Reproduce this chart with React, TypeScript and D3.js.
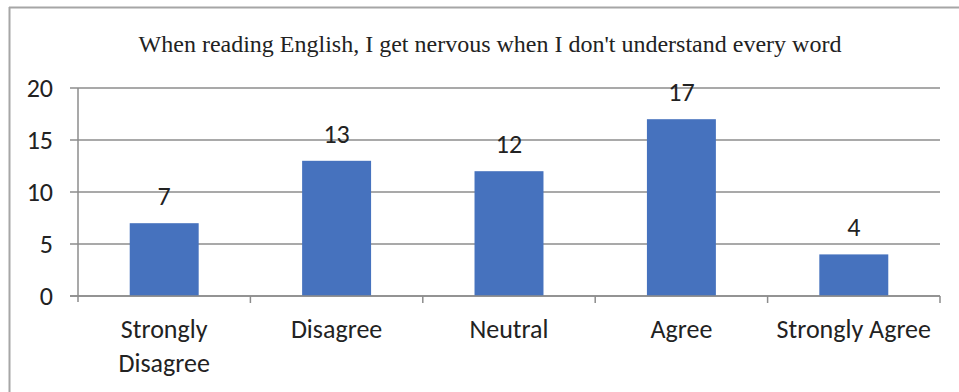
import React from "react";
import * as d3 from "d3";

const title = "When reading English, I get nervous when I don't understand every word";
const categories = ["Strongly Disagree", "Disagree", "Neutral", "Agree", "Strongly Agree"];
const categoryLines = [["Strongly", "Disagree"], ["Disagree"], ["Neutral"], ["Agree"], ["Strongly Agree"]];
const values = [7, 13, 12, 17, 4];
const yTicks = [0, 5, 10, 15, 20];

const W = 959;
const H = 392;
const plot = { left: 78, right: 940, top: 88, bottom: 296 };
const labelFont = "Carlito, Lato, 'Open Sans', sans-serif";
const labelSize = 26;

export default function App() {
  const x = d3.scaleBand<string>().domain(categories).range([plot.left, plot.right]).padding(0);
  const y = d3.scaleLinear().domain([0, 20]).range([plot.bottom, plot.top]);
  const barW = x.bandwidth() * 0.4;
  const grid = "#8c8c8c";

  return (
    <svg width={W} height={H} style={{ position: "absolute", left: 0, top: 0, background: "#fff" }}>
      {/* frame: top and left edges */}
      <line x1={9} x2={W} y1={7.5} y2={7.5} stroke="#a6a6a6" strokeWidth={2} />
      <line x1={9.5} x2={9.5} y1={7} y2={H} stroke="#a6a6a6" strokeWidth={2} />

      <text x={490} y={52} textAnchor="middle" fontFamily="'Liberation Serif', 'Times New Roman', serif" fontSize={24} fill="#222">
        {title}
      </text>

      {yTicks.map((t) => (
        <g key={t}>
          <line x1={70} x2={plot.right} y1={y(t)} y2={y(t)} stroke={grid} strokeWidth={1.3} />
          <text x={53} y={y(t)} dy="0.36em" textAnchor="end" fontFamily={labelFont} fontSize={labelSize} fill="#222">
            {t}
          </text>
        </g>
      ))}

      <line x1={plot.left} x2={plot.left} y1={plot.top} y2={plot.bottom + 6} stroke={grid} strokeWidth={1.5} />
      {categories.map((c) => (
        <line key={c} x1={(x(c) as number) + x.bandwidth()} x2={(x(c) as number) + x.bandwidth()} y1={plot.bottom} y2={plot.bottom + 7} stroke={grid} strokeWidth={1.5} />
      ))}

      {categories.map((c, i) => {
        const cx = (x(c) as number) + x.bandwidth() / 2;
        return (
          <g key={c}>
            <rect x={cx - barW / 2} y={y(values[i])} width={barW} height={plot.bottom - y(values[i])} fill="#4672BE" />
            <text x={cx} y={y(values[i]) - 18} textAnchor="middle" fontFamily={labelFont} fontSize={labelSize} fill="#222">
              {values[i]}
            </text>
            {categoryLines[i].map((ln, j) => (
              <text key={j} x={cx} y={338 + j * 34} textAnchor="middle" fontFamily={labelFont} fontSize={labelSize} fill="#222">
                {ln}
              </text>
            ))}
          </g>
        );
      })}
      <line x1={70} x2={plot.right} y1={plot.bottom} y2={plot.bottom} stroke={grid} strokeWidth={1.5} />
    </svg>
  );
}
